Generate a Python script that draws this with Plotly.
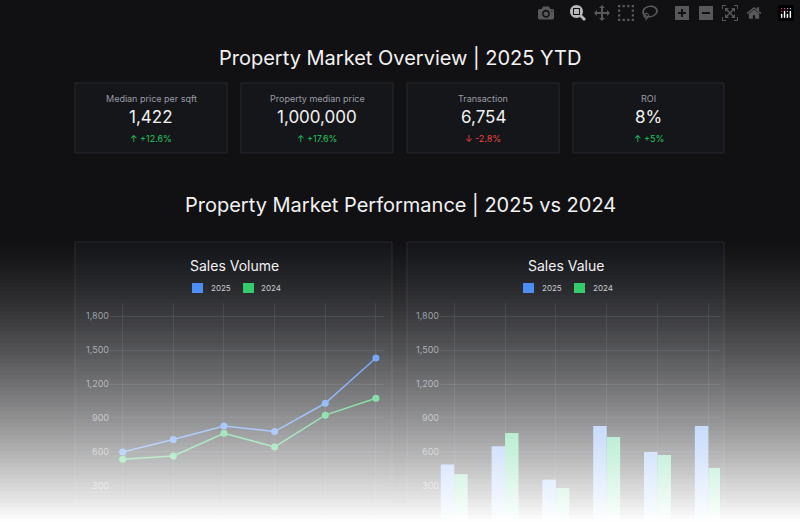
import plotly.graph_objects as go
from plotly.subplots import make_subplots

# datos
meses = ["Jan", "Feb", "Mar", "Apr", "May", "Jun"]
volumen_2025 = [600, 710, 830, 780, 1030, 1430]
volumen_2024 = [535, 565, 765, 645, 925, 1075]
valor_2025 = [490, 650, 355, 830, 600, 830]
valor_2024 = [405, 768, 282, 732, 574, 459]

kpi_titulos = ["Median price per sqft", "Property median price", "Transaction", "ROI"]
kpi_valores = ["1,422", "1,000,000", "6,754", "8%"]
kpi_cambios = ["↑ +12.6%", "↑ +17.6%", "↓ -2.8%", "↑ +5%"]

W, H = 800, 522
AZUL, VERDE = "#3b82f6", "#22c55e"


def px(x):
    return x / W


def py(y):
    return 1 - y / H


fig = make_subplots(rows=1, cols=2)

fig.add_trace(go.Scatter(x=meses, y=volumen_2025, mode="lines+markers", line=dict(color=AZUL, width=1.5),
                         marker=dict(size=7), name="2025"), 1, 1)
fig.add_trace(go.Scatter(x=meses, y=volumen_2024, mode="lines+markers", line=dict(color=VERDE, width=1.5),
                         marker=dict(size=7), name="2024"), 1, 1)
fig.add_trace(go.Bar(x=meses, y=valor_2025, marker=dict(color="#7fadf6", line=dict(width=0)), name="2025"), 1, 2)
fig.add_trace(go.Bar(x=meses, y=valor_2024, marker=dict(color="#54d392", line=dict(width=0)), name="2024"), 1, 2)

ejes = dict(showgrid=True, gridcolor="rgba(255,255,255,0.08)", zeroline=False, showline=False,
            tickfont=dict(size=9, color="#8a8d96"))
fig.update_xaxes(**ejes, type="category", showticklabels=False)
fig.update_yaxes(**ejes, range=[-18, 1915], tickvals=[300, 600, 900, 1200, 1500, 1800], tickformat=",")
fig.update_layout(
    xaxis=dict(domain=[px(110), px(383.5)], range=[-0.25, 5.15]),
    xaxis2=dict(domain=[px(440), px(720)], range=[-0.28, 5.23]),
    yaxis=dict(domain=[0, py(303)]),
    yaxis2=dict(domain=[0, py(303)]),
    barmode="group", bargap=0.47, bargroupgap=0,
)

shapes = []
anots = []

# tarjetas KPI
for i, (x0, x1) in enumerate([(75, 227), (241, 393), (407, 559), (573, 724)]):
    shapes.append(dict(type="rect", xref="paper", yref="paper", x0=px(x0), x1=px(x1), y0=py(153), y1=py(83),
                       fillcolor="#15161a", line=dict(color="#26282e", width=1), layer="below"))
    cx = px((x0 + x1) / 2)
    anots.append(dict(x=cx, y=py(98), text=kpi_titulos[i], font=dict(size=9, color="#9a9ca5")))
    anots.append(dict(x=cx, y=py(117), text=kpi_valores[i], font=dict(size=17, color="#f2f2f2")))
    col = "#ef4444" if kpi_cambios[i].startswith("↓") else "#22c55e"
    anots.append(dict(x=cx, y=py(138), text=kpi_cambios[i], font=dict(size=9, color=col)))

# tarjetas de gráficos
for x0, x1 in [(75, 392), (407, 724)]:
    shapes.append(dict(type="rect", xref="paper", yref="paper", x0=px(x0), x1=px(x1), y0=py(530), y1=py(242),
                       fillcolor="#141519", line=dict(color="#26282e", width=1), layer="below"))

anots.append(dict(x=0.5, y=py(58), text="Property Market Overview | 2025 YTD", font=dict(size=20, color="#f2f2f2")))
anots.append(dict(x=0.5, y=py(205), text="Property Market Performance | 2025 vs 2024", font=dict(size=20, color="#f2f2f2")))
anots.append(dict(x=px(234), y=py(265), text="Sales Volume", font=dict(size=14, color="#f2f2f2")))
anots.append(dict(x=px(566), y=py(265), text="Sales Value", font=dict(size=14, color="#f2f2f2")))

# leyendas
for sx, tx, lab, c in [(192, 209, "2025", AZUL), (243, 259, "2024", VERDE),
                       (523, 540, "2025", AZUL), (574, 591, "2024", VERDE)]:
    shapes.append(dict(type="rect", xref="paper", yref="paper", x0=px(sx), x1=px(sx + 11), y0=py(293), y1=py(283),
                       fillcolor=c, line=dict(width=0)))
    anots.append(dict(x=px(tx), y=py(288), text=lab, xanchor="left", font=dict(size=8, color="#c9cbd2")))

# degradado blanco inferior
paso = 4
for y in range(235, H, paso):
    a = ((y + paso / 2 - 235) / (H - 235)) ** 1.4
    shapes.append(dict(type="rect", xref="paper", yref="paper", x0=0, x1=1, y0=py(y + paso), y1=py(y),
                       fillcolor="white", opacity=min(a, 1), line=dict(width=0), layer="above"))

for a in anots:
    a.update(xref="paper", yref="paper", showarrow=False, yanchor="middle")
    a.setdefault("xanchor", "center")

fig.update_layout(
    width=W, height=H, margin=dict(l=0, r=0, t=0, b=0),
    paper_bgcolor="#111114", plot_bgcolor="rgba(0,0,0,0)",
    font=dict(family="Inter"), showlegend=False,
    shapes=shapes, annotations=anots,
)

fig.write_html("out.html", post_script="document.body.style.margin='0';")
